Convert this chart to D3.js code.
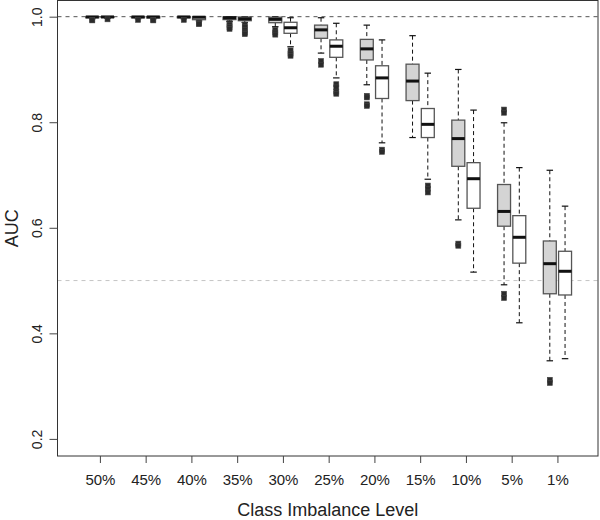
<!DOCTYPE html>
<html>
<head>
<meta charset="utf-8">
<script src="https://cdn.jsdelivr.net/npm/d3@7"></script>
<style>
  html, body { margin: 0; padding: 0; background: #fff; }
  text { font-family: "Liberation Sans", Arial, Helvetica, sans-serif; fill: #222; }
</style>
</head>
<body>
<svg id="chart" width="600" height="520"></svg>
<script>
// ---- data ----
const levels = ["50%", "45%", "40%", "35%", "30%", "25%", "20%", "15%", "10%", "5%", "1%"];
const yTicks = [0.2, 0.4, 0.6, 0.8, 1.0];

// grey (first) boxes
const grayUpper  = [1.0, 1.0, 1.0, 1.0, 1.0, 0.998, 0.984, 0.964, 0.900, 0.799, 0.709];
const grayQ3     = [1.0, 1.0, 1.0, 0.9995, 0.999, 0.984, 0.957, 0.910, 0.804, 0.682, 0.575];
const grayMedian = [0.9995, 0.9995, 0.9995, 0.998, 0.995, 0.975, 0.939, 0.878, 0.769, 0.631, 0.532];
const grayQ1     = [0.998, 0.998, 0.998, 0.9945, 0.9886, 0.959, 0.918, 0.841, 0.7165, 0.603, 0.475];
const grayLower  = [0.996, 0.996, 0.996, 0.991, 0.981, 0.931, 0.871, 0.771, 0.615, 0.492, 0.348];
const grayOutliers = [
  [0.994, 0.993], [0.994], [0.994], [0.988, 0.984, 0.980, 0.977],
  [0.975, 0.970, 0.966], [0.916, 0.909], [0.850, 0.847, 0.834, 0.831], [],
  [0.570, 0.566], [0.824, 0.818, 0.475, 0.467], [0.312, 0.306]
];

// white (second) boxes
const whiteUpper  = [1.0, 1.0, 1.0, 1.0, 0.998, 0.9875, 0.956, 0.893, 0.823, 0.714, 0.641];
const whiteQ3     = [1.0, 1.0, 1.0, 0.9994, 0.9894, 0.956, 0.907, 0.826, 0.7234, 0.623, 0.5555];
const whiteMedian = [0.9995, 0.9995, 0.999, 0.996, 0.979, 0.944, 0.884, 0.796, 0.693, 0.582, 0.5176];
const whiteQ1     = [0.9985, 0.9975, 0.9943, 0.9924, 0.9685, 0.923, 0.845, 0.771, 0.637, 0.533, 0.4727];
const whiteLower  = [0.997, 0.996, 0.992, 0.989, 0.943, 0.884, 0.761, 0.692, 0.516, 0.420, 0.352];
const whiteOutliers = [
  [0.995], [0.994, 0.993], [0.989, 0.987, 0.986], [0.985, 0.980, 0.975, 0.970, 0.967],
  [0.936, 0.930, 0.926], [0.872, 0.866, 0.858, 0.854], [0.748, 0.744],
  [0.680, 0.674, 0.667], [], [], []
];

const refLines = [1.0, 0.5];

// ---- build ----
function build(upper, q3, med, q1, lower, outs, offset, fill) {
  return levels.map((lv, i) => ({
    level: lv, i, pos: 3 * i + offset, fill,
    upper: upper[i], q3: q3[i], med: med[i], q1: q1[i], lower: lower[i], outliers: outs[i]
  }));
}
const boxes = build(grayUpper, grayQ3, grayMedian, grayQ1, grayLower, grayOutliers, 1, "#d4d4d4")
  .concat(build(whiteUpper, whiteQ3, whiteMedian, whiteQ1, whiteLower, whiteOutliers, 2, "#ffffff"));

const svg = d3.select("#chart");
const L = 57.5, R = 598, T = 0.5, B = 456;

const x = d3.scaleLinear().domain([-1.28, 34.16]).range([L, R]);
const y = d3.scaleLinear().domain([0.1676, 1.0316]).range([B, 0]);

const boxW = x(0.85) - x(0);
const capW = boxW * 0.5;

// reference lines
svg.append("line")
  .attr("x1", L).attr("x2", R).attr("y1", y(refLines[0])).attr("y2", y(refLines[0]))
  .attr("stroke", "#555").attr("stroke-width", 1).attr("stroke-dasharray", "4,4");
svg.append("line")
  .attr("x1", L).attr("x2", R).attr("y1", y(refLines[1])).attr("y2", y(refLines[1]))
  .attr("stroke", "#c4c4c4").attr("stroke-width", 1).attr("stroke-dasharray", "4,4");

const g = svg.append("g").selectAll("g").data(boxes).join("g");

// whiskers (dashed)
g.append("line")
  .attr("x1", d => x(d.pos)).attr("x2", d => x(d.pos))
  .attr("y1", d => y(d.upper)).attr("y2", d => y(d.q3))
  .attr("stroke", "#111").attr("stroke-dasharray", "4,3");
g.append("line")
  .attr("x1", d => x(d.pos)).attr("x2", d => x(d.pos))
  .attr("y1", d => y(d.q1)).attr("y2", d => y(d.lower))
  .attr("stroke", "#111").attr("stroke-dasharray", "4,3");
// caps
g.append("line")
  .attr("x1", d => x(d.pos) - capW / 2).attr("x2", d => x(d.pos) + capW / 2)
  .attr("y1", d => y(d.upper)).attr("y2", d => y(d.upper))
  .attr("stroke", "#111").attr("stroke-width", 1.2);
g.append("line")
  .attr("x1", d => x(d.pos) - capW / 2).attr("x2", d => x(d.pos) + capW / 2)
  .attr("y1", d => y(d.lower)).attr("y2", d => y(d.lower))
  .attr("stroke", "#111").attr("stroke-width", 1.2);
// box
g.append("rect")
  .attr("x", d => x(d.pos) - boxW / 2).attr("width", boxW)
  .attr("y", d => y(d.q3)).attr("height", d => Math.max(0.5, y(d.q1) - y(d.q3)))
  .attr("fill", d => d.fill).attr("stroke", "#555").attr("stroke-width", 1.3);
// median
g.append("line")
  .attr("x1", d => x(d.pos) - boxW / 2).attr("x2", d => x(d.pos) + boxW / 2)
  .attr("y1", d => y(d.med)).attr("y2", d => y(d.med))
  .attr("stroke", "#111").attr("stroke-width", 3);
// outliers
g.selectAll("rect.out").data(d => d.outliers.map(v => ({ v, pos: d.pos }))).join("rect")
  .attr("class", "out")
  .attr("x", d => x(d.pos) - 2.5).attr("y", d => y(d.v) - 2.5)
  .attr("width", 5).attr("height", 5)
  .attr("fill", "#2b2b2b").attr("stroke", "#444").attr("stroke-width", 0.6);

// frame
svg.append("rect").attr("x", L).attr("y", T).attr("width", R - L).attr("height", B - T)
  .attr("fill", "none").attr("stroke", "#333").attr("stroke-width", 1);

// y axis
const yAxis = d3.axisLeft(y).tickValues(yTicks).tickFormat(d3.format(".1f")).tickSize(8).tickSizeOuter(0);
const ya = svg.append("g").attr("transform", `translate(${L},0)`).call(yAxis);
ya.select(".domain").remove();
ya.selectAll(".tick line").attr("stroke", "#444");
ya.selectAll(".tick text")
  .attr("x", 0).attr("y", 0).attr("dy", null)
  .attr("transform", "translate(-16,0) rotate(-90)")
  .attr("text-anchor", "middle")
  .style("font-size", "14px").style("font-family", "'Liberation Sans', Arial, sans-serif").attr("fill", "#333");

// x axis
const xAxis = d3.axisBottom(x).tickValues(levels.map((_, i) => 3 * i + 1.5))
  .tickFormat((d, i) => levels[i]).tickSize(7).tickSizeOuter(0);
const xa = svg.append("g").attr("transform", `translate(0,${B})`).call(xAxis);
xa.select(".domain").remove();
xa.selectAll(".tick line").attr("stroke", "#444");
xa.selectAll(".tick text").attr("y", 29).attr("dy", null)
  .style("font-size", "15px").style("font-family", "'Liberation Sans', Arial, sans-serif").attr("fill", "#333");

// titles
svg.append("text").attr("x", (L + R) / 2).attr("y", 516).attr("text-anchor", "middle")
  .style("font-size", "18px").text("Class Imbalance Level");
svg.append("text").attr("transform", `translate(18,${(T + B) / 2}) rotate(-90)`).attr("text-anchor", "middle")
  .style("font-size", "18px").text("AUC");
</script>
</body>
</html>
